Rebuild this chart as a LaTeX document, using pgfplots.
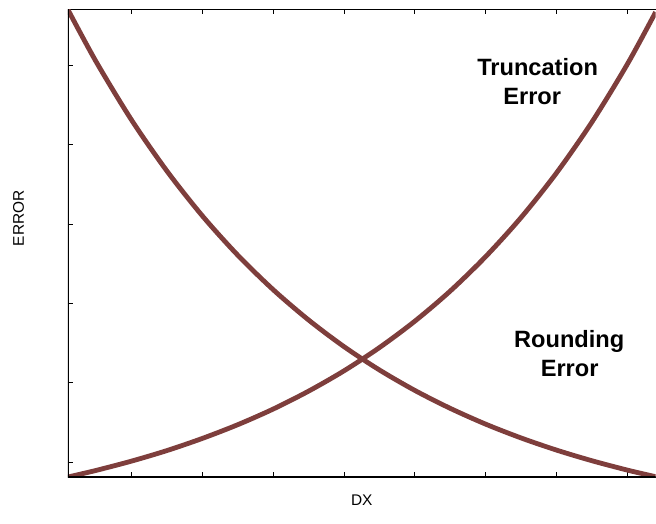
\documentclass[border=0pt]{standalone}
\usepackage{pgfplots}
\pgfplotsset{compat=1.18}
\usepackage{fontspec}
\setmainfont{Liberation Sans}
\definecolor{curve}{RGB}{126,62,60}
\begin{document}
\begin{tikzpicture}
\begin{axis}[
  name=ax,
  scale only axis,
  width=588bp, height=468bp,
  xmin=0.104, xmax=8.398,
  ymin=-0.189, ymax=5.705,
  xtick={1,2,3,4,5,6,7,8},
  ytick={0,1,2,3,4,5},
  xticklabels={}, yticklabels={},
  axis x line*=box,
  axis y line*=left,
  tick align=inside,
  major tick length=5bp,
  tick style={black, line width=0.8pt},
  axis line style={black, line width=0.8pt},
  xlabel={\fontsize{15.5}{18}\selectfont DX},
  ylabel={\fontsize{15.5}{18}\selectfont ERROR},
  xlabel style={at={(axis description cs:0.5,-0.049)}, anchor=center},
  ylabel style={at={(axis description cs:-0.0842,0.553)}, anchor=center},
]
% Rounding error
\addplot[curve, line width=4.8bp, smooth] coordinates {
  (0.104,5.700) (0.5,5.047) (1,4.312) (1.5,3.668) (2,3.103) (2.5,2.607)
  (3,2.172) (3.5,1.790) (4,1.454) (4.5,1.160) (5,0.902) (5.5,0.676)
  (6,0.477) (6.5,0.303) (7,0.150) (7.5,0.016) (8,-0.102) (8.398,-0.185)
};
% Truncation error
\addplot[curve, line width=4.8bp, smooth] coordinates {
  (0.104,-0.189) (0.5,-0.106) (1,0.011) (1.5,0.144) (2,0.297) (2.5,0.470)
  (3,0.667) (3.5,0.893) (4,1.149) (4.5,1.442) (5,1.775) (5.5,2.155)
  (6,2.589) (6.5,3.082) (7,3.644) (7.5,4.285) (8,5.015) (8.398,5.669)
};
\draw[black, line width=1.6pt] (rel axis cs:0,1) -- (rel axis cs:0,0) -- (rel axis cs:1,0);
\node[anchor=base, font=\fontsize{23.7}{29}\selectfont\bfseries] at (axis cs:6.733,4.865) {Truncation};
\node[anchor=base, font=\fontsize{23.7}{29}\selectfont\bfseries] at (axis cs:6.656,4.500) {Error};
\node[anchor=base, font=\fontsize{23.7}{29}\selectfont\bfseries] at (axis cs:7.178,1.440) {Rounding};
\node[anchor=base, font=\fontsize{23.7}{29}\selectfont\bfseries] at (axis cs:7.185,1.074) {Error};
\end{axis}
\path[use as bounding box] ([xshift=-68bp, yshift=-46.7bp]ax.south west) rectangle ([yshift=9.3bp]ax.north east);
\end{tikzpicture}
\end{document}
